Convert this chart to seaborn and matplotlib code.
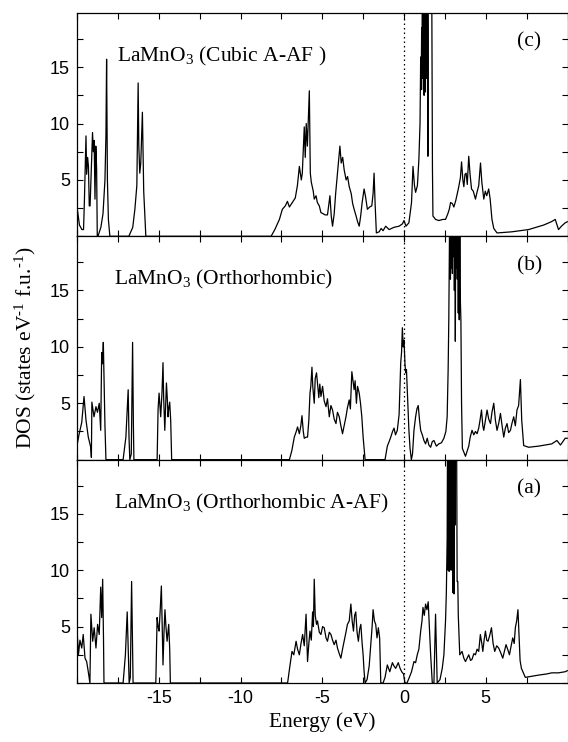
import numpy as np
import pandas as pd
import matplotlib
matplotlib.use("Agg")
import matplotlib.pyplot as plt
from matplotlib.ticker import MultipleLocator, FixedLocator
import seaborn as sns

# ---------------- data ----------------
panel_tags = ["(c)", "(b)", "(a)"]
panel_titles = ["LaMnO$_3$ (Cubic A-AF )", "LaMnO$_3$ (Orthorhombic)", "LaMnO$_3$ (Orthorhombic A-AF)"]

e_c = [-20.0, -19.85, -19.7, -19.6, -19.55, -19.45, -19.41, -19.35, -19.3, -19.25, -19.2, -19.05, -19.0,
       -18.95, -18.9, -18.85, -18.8, -18.76,
       -18.72, -18.54, -18.41, -18.29, -18.23, -18.19, -18.14, -18.08, -17.99,
       -16.83, -16.59, -16.46, -16.34, -16.26, -16.22, -16.16, -16.1, -16.0, -15.92, -15.79,
       -8.13, -7.9, -7.62, -7.44, -7.26, -7.13, -7.01, -6.83, -6.65, -6.52, -6.4, -6.28, -6.22, -6.1,
       -6.04, -5.98, -5.91, -5.85, -5.79, -5.73, -5.67, -5.55, -5.49, -5.38, -5.3, -5.18, -5.08, -4.94,
       -4.82, -4.68, -4.53, -4.45, -4.37, -4.27, -4.18, -4.07, -3.92, -3.84, -3.75, -3.66, -3.54, -3.45,
       -3.35, -3.23, -3.14, -3.05, -2.93, -2.84, -2.74, -2.65, -2.56, -2.44, -2.35, -2.24, -2.1, -1.97,
       -1.89, -1.83, -1.77, -1.69, -1.52, -1.4, -1.28, -1.12, -0.91, -0.61, -0.3, -0.1, 0.0, 0.12, 0.3,
       0.46, 0.55, 0.64, 0.71, 0.82, 0.91,
       0.98, 1.02, 1.05, 1.08, 1.1, 1.13, 1.15, 1.17, 1.19, 1.21, 1.23, 1.25, 1.27, 1.29, 1.31, 1.33,
       1.35, 1.37, 1.39, 1.41, 1.44, 1.46, 1.49, 1.59, 1.69, 1.74,
       1.77, 1.93, 2.13, 2.38, 2.54, 2.68, 2.77, 2.85, 2.96, 3.05, 3.17, 3.26, 3.35,
       3.45, 3.52, 3.6, 3.66, 3.73, 3.8, 3.87, 3.96, 4.04, 4.13, 4.24, 4.37, 4.48, 4.57, 4.68, 4.76,
       4.88, 4.97, 5.06, 5.18, 5.27, 5.38, 5.49, 5.69, 6.59, 7.62, 8.54, 9.02, 9.25, 9.36, 9.45, 9.63,
       9.86, 10.0]
dos_c = [2.6, 1.0, 0.6, 0.6, 3.0, 8.9, 5.5, 7.0, 6.2, 2.7, 2.7, 9.2, 7.5,
         8.5, 3.3, 8.0, 6.0, 0.0,
         0.0, 0.8, 2.0, 5.0, 9.0, 15.7, 5.0, 1.5, 0.0,
         0.0, 0.8, 2.4, 4.5, 13.6, 8.0, 5.6, 6.5, 11.0, 4.0, 0.0,
         0.0, 0.6, 1.5, 2.4, 2.7, 3.1, 2.6, 3.0, 3.4, 4.5, 6.2, 5.0, 5.6, 9.7,
         7.0, 10.0, 8.0, 10.5, 12.9, 5.6, 4.8, 4.0, 3.3, 3.6, 3.0, 2.7, 2.1, 2.0,
         1.9, 1.9, 3.6, 1.8, 0.9, 2.0, 3.8, 5.6, 8.0, 6.5, 7.0, 5.9, 5.0, 5.3,
         4.4, 3.8, 2.9, 2.4, 1.8, 1.3, 0.9, 1.8, 3.0, 4.2, 3.5, 2.4, 2.6, 2.7,
         3.8, 5.6, 3.0, 0.3, 0.4, 0.7, 0.5, 0.9, 0.6, 0.8, 0.9, 1.1, 1.4, 0.9, 1.2,
         3.0, 6.2, 4.5, 3.9, 4.5, 6.8,
         10.0, 15.9, 13.0, 18.5, 16.0, 25.0, 14.0, 25.0, 13.0, 25.0, 12.5, 25.0, 13.5, 25.0, 12.8, 25.0,
         14.0, 25.0, 16.0, 25.0, 18.0, 7.1, 25.0, 25.0, 25.0, 6.0,
         1.8, 1.5, 1.4, 1.5, 1.5, 2.0, 2.4, 3.0, 2.9, 2.6, 3.2, 3.8, 4.4,
         5.2, 6.6, 5.0, 4.4, 5.5, 5.6, 4.6, 7.1, 5.5, 4.2, 4.0, 3.3, 4.0, 4.5, 6.5, 4.8,
         3.3, 4.0, 3.6, 4.2, 3.3, 1.5, 0.7, 0.3, 0.4, 0.6, 1.0, 1.3, 1.5, 1.0, 0.6, 0.9,
         1.2, 1.3]

e_b = [-20.02, -19.88, -19.71, -19.57, -19.45, -19.31, -19.16, -19.12, -19.09, -18.96, -18.84, -18.75,
       -18.64, -18.55, -18.49, -18.44, -18.39, -18.33, -18.29, -18.23,
       -17.18, -17.01, -16.87, -16.82, -16.77, -16.68, -16.6, -16.55, -16.52,
       -15.1, -15.04, -14.98, -14.93, -14.88, -14.8, -14.74, -14.7, -14.63, -14.57, -14.53, -14.48,
       -14.43, -14.39, -14.33, -14.27, -14.21,
       -7.01, -6.86, -6.71, -6.59, -6.51, -6.4, -6.31, -6.24, -6.16, -6.1, -5.98, -5.9, -5.82, -5.75,
       -5.7, -5.63, -5.58, -5.49, -5.43, -5.35, -5.29, -5.21, -5.15, -5.08, -4.98, -4.88, -4.77, -4.68,
       -4.57, -4.47, -4.37, -4.27, -4.16, -4.07, -3.96, -3.86, -3.76, -3.66, -3.55, -3.46, -3.35, -3.28,
       -3.19, -3.12, -3.05, -2.99, -2.91, -2.84, -2.74, -2.66, -2.58, -2.5, -2.38,
       -1.16, -1.02, -0.91, -0.81, -0.7, -0.61, -0.52, -0.41, -0.3, -0.2, -0.15, -0.1, -0.05, 0.0,
       0.06, 0.1, 0.15, 0.2, 0.26, 0.3, 0.37, 0.45, 0.52, 0.61, 0.71, 0.79, 0.87, 0.95, 1.02, 1.12,
       1.22, 1.32, 1.42, 1.52, 1.63, 1.73, 1.83, 1.98, 2.13, 2.29, 2.44, 2.56, 2.64,
       2.7, 2.74, 2.78, 2.81, 2.84, 2.87, 2.9, 2.93, 2.96, 2.99, 3.02, 3.05, 3.08, 3.11, 3.14, 3.17,
       3.2, 3.23, 3.26, 3.29, 3.32, 3.35, 3.38, 3.41, 3.45, 3.48, 3.52, 3.57,
       3.76, 3.96, 4.05, 4.16,
       4.27, 4.37, 4.47, 4.57, 4.65, 4.74, 4.82, 4.88, 4.98, 5.08, 5.18, 5.29, 5.38, 5.49, 5.59, 5.69,
       5.79, 5.9, 6.0, 6.1, 6.2, 6.3, 6.4, 6.51, 6.6, 6.71, 6.81, 6.91, 7.01, 7.12, 7.2, 7.32, 7.62,
       8.23, 9.04, 9.35, 9.57, 9.86, 10.0]
dos_b = [1.1, 2.2, 3.3, 5.6, 3.5, 2.0, 1.1, 0.2, 5.1, 3.8, 4.7, 4.2,
         5.0, 2.6, 9.5, 8.5, 10.4, 6.2, 3.0, 0.0,
         0.0, 2.0, 6.2, 2.0, 0.0, 0.5, 10.4, 3.0, 0.0,
         0.0, 4.5, 5.9, 4.8, 3.8, 6.0, 8.6, 5.5, 2.6, 5.0, 6.8, 5.5,
         3.8, 4.5, 5.1, 3.5, 0.0,
         0.0, 0.8, 2.0, 2.5, 2.9, 2.3, 3.0, 3.9, 2.5, 1.9, 2.0, 2.0, 3.5, 5.9,
         6.5, 8.2, 6.5, 5.0, 7.2, 7.7, 6.8, 5.5, 6.7, 5.6, 6.5, 5.2, 4.7, 5.4,
         3.8, 4.8, 4.4, 3.6, 3.2, 4.2, 3.8, 3.0, 2.3, 3.0, 3.8, 4.6, 5.3, 4.5,
         7.8, 7.0, 6.2, 7.0, 5.0, 6.5, 5.9, 5.0, 3.8, 2.0, 0.0,
         0.0, 1.2, 1.6, 2.0, 2.5, 2.8, 2.2, 2.6, 4.0, 8.6, 9.5, 11.7, 10.0, 10.6,
         8.5, 7.7, 8.0, 6.2, 4.0, 2.6, 1.0, 0.0, 0.5, 2.6, 3.8, 4.5, 4.8, 3.5, 2.6, 2.2,
         1.7, 1.4, 1.9, 1.3, 1.1, 1.6, 1.7, 1.2, 1.4, 1.5, 1.9, 2.5, 3.8,
         8.0, 12.4, 20.0, 25.0, 16.0, 25.0, 17.0, 25.0, 16.5, 25.0, 18.0, 25.0, 15.0, 25.0, 10.5, 25.0,
         17.0, 25.0, 16.0, 25.0, 13.0, 25.0, 12.4, 25.0, 14.0, 12.4, 5.0, 1.0,
         0.3, 1.2, 2.0, 2.6,
         2.2, 2.5, 2.3, 2.8, 3.5, 4.4, 3.0, 2.6, 3.5, 4.4, 3.6, 3.2, 4.2, 5.0, 3.5, 2.6,
         3.2, 4.1, 3.0, 2.0, 2.8, 3.2, 2.4, 2.6, 3.2, 3.8, 3.0, 4.4, 4.8, 7.1, 3.5, 1.25, 1.1,
         1.2, 1.4, 1.7, 1.3, 1.9, 1.9]

e_a = [-20.02, -19.91, -19.82, -19.71, -19.62, -19.51, -19.41, -19.31, -19.21, -19.15, -19.04, -18.95,
       -18.84, -18.74, -18.64, -18.55, -18.49, -18.43, -18.38, -18.35,
       -17.18, -17.04, -16.93, -16.87, -16.81, -16.74, -16.66, -16.61, -16.57,
       -15.18, -15.1, -15.04, -14.98, -14.91, -14.84, -14.79, -14.74, -14.68, -14.62, -14.56, -14.49,
       -14.44, -14.39, -14.33, -14.29,
       -7.12, -6.98, -6.85, -6.74, -6.6, -6.51, -6.4, -6.3, -6.2, -6.1, -5.99, -5.9, -5.82, -5.75,
       -5.67, -5.59, -5.54, -5.49, -5.43, -5.35, -5.29, -5.18, -5.08, -4.98, -4.88, -4.77, -4.68, -4.57,
       -4.47, -4.37, -4.27, -4.16, -4.07, -3.96, -3.86, -3.76, -3.66, -3.55, -3.46, -3.35, -3.25, -3.17,
       -3.09, -3.02, -2.95, -2.87, -2.79, -2.71, -2.64, -2.56, -2.5, -2.44, -2.38, -2.26, -2.13, -2.03,
       -1.95, -1.89, -1.81, -1.73, -1.65, -1.57, -1.49, -1.42, -1.28, -1.16, -1.02, -0.87, -0.71, -0.61,
       -0.51, -0.35, -0.24, -0.14, -0.03, 0.06, 0.18, 0.3, 0.46, 0.61, 0.71, 0.81, 0.91, 1.02, 1.1,
       1.16, 1.24, 1.32, 1.4, 1.48, 1.55, 1.63, 1.73, 1.83, 1.93, 1.98, 2.03, 2.2, 2.34, 2.44, 2.54,
       2.59,
       2.64, 2.67, 2.7, 2.73, 2.76, 2.79, 2.82, 2.85, 2.88, 2.91, 2.94, 2.97, 3.0, 3.03, 3.06, 3.09,
       3.12, 3.15, 3.18, 3.21, 3.25, 3.29, 3.32, 3.41,
       3.55, 3.66, 3.76,
       3.86, 3.96, 4.07, 4.16, 4.27, 4.37, 4.47, 4.57, 4.67, 4.76, 4.82, 4.9, 4.98, 5.06, 5.14, 5.24,
       5.35, 5.45, 5.55, 5.67, 5.79, 5.91, 6.04, 6.14, 6.24, 6.34, 6.45, 6.54, 6.65, 6.74, 6.81, 6.89,
       6.97, 7.04, 7.1, 7.18, 7.42, 8.23, 8.72, 9.04, 9.45, 9.86, 10.0]
dos_a = [5.2, 2.5, 3.8, 3.1, 4.3, 2.2, 1.9, 1.0, 0.0, 6.1, 3.7, 4.9,
         3.1, 5.2, 4.3, 8.5, 5.8, 9.2, 4.0, 0.0,
         0.0, 2.5, 6.3, 3.0, 0.0, 0.5, 9.0, 4.0, 0.0,
         0.0, 5.8, 5.0, 4.6, 6.5, 8.6, 5.0, 1.6, 4.5, 6.5, 5.0, 3.7,
         4.5, 5.2, 3.0, 0.0,
         0.0, 1.5, 2.8, 2.5, 3.7, 3.0, 2.5, 3.5, 4.3, 3.3, 6.1, 1.9, 3.5, 4.6,
         3.8, 6.3, 5.0, 9.2, 6.0, 5.2, 5.5, 4.5, 4.3, 5.0, 4.9, 4.0, 3.7, 4.5,
         4.3, 3.8, 3.4, 3.8, 3.1, 2.6, 2.2, 3.0, 3.7, 4.5, 5.2, 5.5, 7.0, 5.5,
         4.6, 6.0, 6.3, 4.5, 3.7, 4.8, 5.2, 3.5, 2.5, 1.0, 0.0, 0.3, 1.5, 3.4,
         5.0, 6.5, 5.5, 5.2, 4.0, 4.9, 4.0, 0.0, 0.0, 0.5, 1.6, 1.0, 1.8, 1.5,
         1.3, 1.8, 1.3, 1.0, 0.8, 0.0, 0.0, 0.4, 1.0, 1.9, 1.8, 2.5, 3.0, 4.6, 5.5,
         6.7, 6.0, 7.0, 6.5, 7.2, 5.0, 2.5, 0.0, 0.0, 6.1, 3.0, 0.0, 0.3, 1.3, 2.5, 5.5,
         8.0,
         12.9, 25.0, 10.0, 25.0, 9.9, 25.0, 11.0, 25.0, 10.0, 25.0, 12.0, 25.0, 8.0, 25.0, 7.9, 25.0,
         14.0, 25.0, 20.0, 25.0, 9.0, 9.0, 6.0, 2.5,
         2.8, 2.2, 1.9,
         2.2, 2.5, 2.0, 2.1, 2.6, 2.5, 3.0, 2.8, 4.3, 3.5, 2.8, 3.8, 4.6, 3.8, 3.7, 4.2,
         4.9, 3.5, 2.8, 3.3, 3.1, 2.7, 2.2, 2.8, 3.4, 3.0, 2.5, 3.2, 4.0, 3.5, 4.9, 5.5,
         6.5, 4.0, 2.0, 1.3, 0.5, 0.7, 0.8, 0.9, 0.9, 1.0, 1.1]

x_ticks = [-15, -10, -5, 0, 5]
y_ticks = [5, 10, 15]

# ---------------- styling ----------------
sns.set_theme(style="ticks")
plt.rcParams["font.family"] = ["Liberation Sans", "DejaVu Sans"]
plt.rcParams["mathtext.fontset"] = "custom"
plt.rcParams["mathtext.rm"] = "Liberation Serif"
plt.rcParams["mathtext.it"] = "Liberation Serif:italic"
plt.rcParams["axes.unicode_minus"] = False
plt.rcParams["text.color"] = "black"
plt.rcParams["axes.labelcolor"] = "black"
SERIF = ["Liberation Serif", "DejaVu Serif"]

fig = plt.figure(figsize=(5.68, 7.42), dpi=100)
left, right = 77 / 568, 567.5 / 568
bottom, top = 1 - 683 / 742, 1 - 13 / 742
h = (top - bottom) / 3

panels = [(e_c, dos_c), (e_b, dos_b), (e_a, dos_a)]
axes = []
for i, (ee, dd) in enumerate(panels):
    ax = fig.add_axes([left, top - (i + 1) * h, right - left, h])
    axes.append(ax)
    df = pd.DataFrame({"Energy": ee, "DOS": dd})
    sns.lineplot(data=df, x="Energy", y="DOS", ax=ax, color="black", linewidth=0.9,
                 sort=False, estimator=None)
    ax.axvline(0, color="black", linestyle=(0, (1.2, 2.4)), linewidth=0.9)
    ax.set_xlim(-20, 10)
    ax.set_ylim(0, 19.8)
    ax.xaxis.set_major_locator(FixedLocator(x_ticks))
    ax.xaxis.set_minor_locator(MultipleLocator(2.5))
    ax.yaxis.set_major_locator(FixedLocator(y_ticks))
    ax.yaxis.set_minor_locator(MultipleLocator(2.5))
    ax.tick_params(which="both", direction="in", top=True, right=True, length=4, width=0.8,
                   labelsize=13, pad=5, colors="black")
    for s in ax.spines.values():
        s.set_linewidth(0.9)
        s.set_color("black")
    ax.set_xlabel("")
    ax.set_ylabel("")
    if i < 2:
        ax.tick_params(labelbottom=False)
    ax.text(-17.55 if i == 0 else -17.75, 15.5, panel_titles[i], fontsize=15.5,
            family=SERIF, ha="left", va="baseline", color="black")
    ax.text(6.9, 16.8, panel_tags[i], fontsize=15.5, family=SERIF, ha="left", va="baseline",
            color="black")

axes[2].set_xlabel("Energy (eV)", fontsize=15.5, family=SERIF, labelpad=4, color="black")
fig.text(0.045, (top + bottom) / 2, r"DOS (states eV$^{\text{-}1}$ f.u.$^{\text{-}1}$)", rotation=90,
         fontsize=15.5, family=SERIF, ha="center", va="center", color="black")

fig.savefig("out.png", dpi=100)
